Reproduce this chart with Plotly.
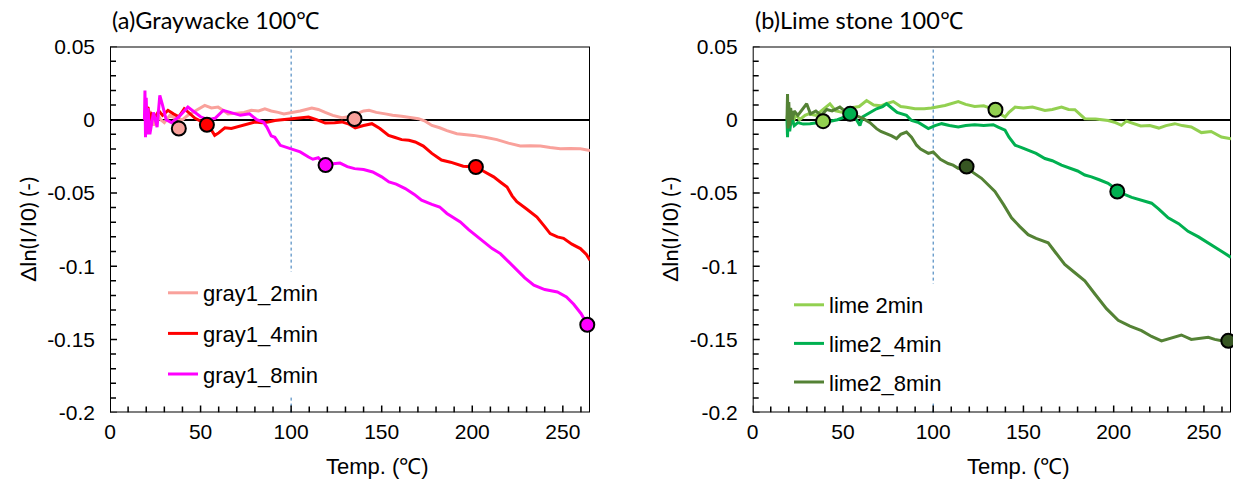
import plotly.graph_objects as go

# ---------------- data ----------------
# (a) Graywacke
g2_x = [19.5, 20, 21, 22, 24, 26, 28, 30, 33, 36, 40, 43, 47, 52.3, 56, 59.7, 63, 65.2, 70, 74, 78, 82, 85.5, 89, 92.8, 96, 100.4, 105, 111.4, 115, 118.8, 123, 128, 132, 136, 140, 143, 147, 152, 156, 161, 165, 170.3, 174, 177.7, 182, 186, 191.5, 196, 200.7, 207, 213.6, 220, 226.5, 232, 237.6, 243, 248.6, 254, 259.7, 265]
g2_y = [0.0, 0.008, -0.005, 0.006, -0.004, 0.004, 0.0, -0.002, 0.003, 0.001, 0.0, 0.003, 0.006, 0.0098, 0.008, 0.0086, 0.006, 0.004, 0.0045, 0.005, 0.0064, 0.006, 0.0075, 0.006, 0.005, 0.004, 0.005, 0.006, 0.008, 0.007, 0.005, 0.003, 0.0014, 0.002, 0.004, 0.006, 0.0064, 0.005, 0.004, 0.003, 0.0023, 0.0015, 0.0007, -0.001, -0.0039, -0.0055, -0.0075, -0.0096, -0.010, -0.0107, -0.012, -0.0136, -0.016, -0.018, -0.0178, -0.018, -0.019, -0.0198, -0.0196, -0.0198, -0.021]

g4_x = [19.5, 20, 20.5, 21, 22, 23, 25, 27, 29, 32, 35, 38, 41, 44, 47, 50, 53, 55, 57.8, 60, 63.4, 67, 72.6, 76, 80, 84, 87.3, 91, 96, 100.4, 105, 109.6, 114, 118.8, 124, 128, 132, 135.4, 140, 144.6, 149, 153.8, 157, 161, 165, 168.5, 173, 177.7, 183, 188, 195, 201.6, 206, 211.8, 216, 219.2, 222, 224.6, 230, 235.7, 240, 243, 247, 250.4, 255, 259.7, 263, 265]
g4_y = [0.0, -0.006, 0.008, 0.0086, -0.002, 0.004, 0.002, 0.006, 0.003, 0.0064, 0.004, 0.002, 0.0075, 0.004, 0.001, -0.001, -0.002, -0.005, -0.0107, -0.009, -0.0055, -0.006, -0.0039, -0.003, -0.0016, -0.002, -0.0016, -0.0005, 0.0, 0.0007, 0.001, 0.0018, 0.0, -0.0023, -0.002, -0.0015, -0.003, -0.0055, -0.004, -0.0027, -0.006, -0.0107, -0.012, -0.0136, -0.014, -0.0152, -0.018, -0.023, -0.0275, -0.029, -0.0318, -0.0323, -0.035, -0.039, -0.043, -0.046, -0.052, -0.056, -0.061, -0.0664, -0.073, -0.0778, -0.080, -0.081, -0.085, -0.088, -0.092, -0.096]

g8_x = [19, 19.3, 19.6, 20, 20.5, 21, 22, 24, 26, 27.5, 29, 31, 34, 38, 43, 47, 50, 54, 58, 62.5, 67, 72, 77, 81, 84.7, 86.6, 89, 91, 94, 96.7, 99.4, 102, 105, 109.6, 112, 115, 119, 123, 127, 131, 135, 140, 145, 150, 154, 158, 163, 168, 172, 177.7, 182, 186, 190, 193.4, 198, 202, 206, 211, 215.5, 220, 224.6, 229, 234, 240, 247, 252, 256, 260, 263.5]
g8_y = [0.0, 0.02, -0.012, 0.015, -0.01, 0.008, -0.01, 0.005, -0.005, 0.0166, 0.01, 0.0, -0.002, 0.002, 0.0086, 0.005, 0.002, 0.0, 0.001, 0.0064, 0.005, 0.003, 0.004, 0.0, -0.0016, -0.005, -0.011, -0.012, -0.0175, -0.0186, -0.0198, -0.021, -0.022, -0.0255, -0.027, -0.026, -0.031, -0.030, -0.0296, -0.032, -0.0334, -0.034, -0.0357, -0.039, -0.0425, -0.044, -0.047, -0.051, -0.055, -0.0578, -0.0596, -0.064, -0.067, -0.0698, -0.075, -0.079, -0.0834, -0.088, -0.0914, -0.097, -0.1028, -0.108, -0.113, -0.116, -0.1176, -0.121, -0.126, -0.1323, -0.1396]

g2_mx, g2_my = [38, 135], [-0.006, 0.0005]
g4_mx, g4_my = [53.5, 202], [-0.0035, -0.0323]
g8_mx, g8_my = [119, 263.5], [-0.031, -0.14]

# (b) Lime stone
l2_x = [19, 19.5, 20, 21, 22, 24, 26, 29, 31, 35, 38, 42.8, 46, 50, 54, 59, 63.1, 67, 71, 74, 77.9, 82, 85.2, 89.9, 95, 99, 106.5, 110, 113.9, 118, 123, 128, 134.2, 137, 139.8, 142, 145.4, 150, 155, 161.9, 166, 171.1, 175, 178.5, 181, 184, 190, 196.9, 201, 204.3, 207, 215, 220, 225, 229, 233.9, 238, 243, 248.6, 254, 259.7, 265]
l2_y = [0.0, 0.006, -0.006, 0.005, -0.003, 0.004, 0.0, 0.003, 0.004, 0.003, 0.006, 0.0109, 0.006, 0.005, 0.008, 0.009, 0.0131, 0.01, 0.0095, 0.011, 0.0124, 0.009, 0.0085, 0.0075, 0.0075, 0.008, 0.0097, 0.011, 0.0124, 0.0105, 0.009, 0.0095, 0.0068, 0.004, 0.0018, 0.005, 0.0086, 0.008, 0.0086, 0.0063, 0.007, 0.0086, 0.007, 0.0068, 0.004, 0.0007, 0.0005, -0.0005, -0.002, -0.0038, -0.001, -0.0043, -0.004, -0.0057, -0.004, -0.0027, -0.004, -0.005, -0.0088, -0.008, -0.0118, -0.013]

l4_x = [19, 19.3, 19.7, 20.5, 21.5, 23, 25, 28, 31.7, 35, 39, 43, 47, 51, 54, 57, 59.4, 61, 64, 68.6, 72, 74.2, 77, 80, 85.2, 88, 92, 97.3, 101, 104.7, 109, 113.9, 118, 123, 128, 133.3, 136, 139.8, 142, 145.4, 149, 152.6, 157, 161.9, 166, 171.1, 176, 180, 184, 187.7, 192, 196.9, 202, 206, 210, 215, 221, 225, 230.2, 236, 241.2, 247, 252.4, 259.7, 265]
l4_y = [0.0, -0.012, 0.005, -0.008, 0.002, -0.004, -0.002, -0.003, -0.0027, -0.002, -0.0015, -0.001, 0.0, 0.002, 0.004, 0.001, -0.004, 0.002, 0.004, 0.0075, 0.009, 0.0109, 0.008, 0.005, 0.003, -0.0005, -0.002, -0.006, -0.004, -0.0027, -0.004, -0.005, -0.004, -0.0034, -0.004, -0.0034, -0.005, -0.0072, -0.012, -0.0174, -0.019, -0.0208, -0.023, -0.0265, -0.028, -0.031, -0.0335, -0.035, -0.0378, -0.039, -0.041, -0.0434, -0.048, -0.051, -0.053, -0.055, -0.057, -0.061, -0.067, -0.071, -0.0762, -0.080, -0.084, -0.0898, -0.094]

l8_x = [19, 19.3, 19.6, 20, 20.5, 21, 22, 23, 25, 27, 29.9, 32, 35, 38, 41, 44, 48.3, 51, 53.9, 57, 61.3, 65, 68.6, 71, 74.2, 77, 79.7, 82, 85.2, 88, 90.8, 93, 97.3, 100, 104, 108.3, 111, 113.9, 118.5, 122, 126.8, 130, 134.2, 139, 143.4, 148, 152.6, 157, 163.7, 168, 172.9, 178, 184, 189.6, 196, 202.5, 209, 215.4, 221, 226.5, 232, 237.5, 243, 248, 252.4, 256, 259.7, 263.5]
l8_y = [0.0, 0.0176, -0.006, 0.012, -0.004, 0.008, 0.0, 0.006, 0.003, 0.006, 0.0109, 0.004, 0.006, 0.003, 0.007, 0.006, 0.0086, 0.006, 0.004, 0.003, 0.0007, -0.002, -0.0061, -0.008, -0.0095, -0.011, -0.0129, -0.01, -0.0084, -0.012, -0.0174, -0.02, -0.023, -0.022, -0.027, -0.0299, -0.031, -0.0332, -0.032, -0.036, -0.040, -0.044, -0.049, -0.058, -0.067, -0.073, -0.0785, -0.081, -0.084, -0.091, -0.0988, -0.104, -0.11, -0.119, -0.129, -0.137, -0.141, -0.144, -0.148, -0.151, -0.149, -0.147, -0.150, -0.149, -0.1486, -0.150, -0.151, -0.1508]

l2_mx, l2_my = [39, 134.5], [-0.001, 0.0068]
l4_mx, l4_my = [54, 202], [0.004, -0.049]
l8_mx, l8_my = [118.5, 263.5], [-0.032, -0.151]

x_ticks = [0, 50, 100, 150, 200, 250]
y_ticks = [0.05, 0, -0.05, -0.1, -0.15, -0.2]
y_ticktext = ["0.05", "0", "-0.05", "-0.1", "-0.15", "-0.2"]
titles = ["(a)Graywacke 100℃", "(b)Lime stone 100℃"]
x_title = "Temp. (℃)"
y_title = "Δln(I/I0) (-)"

# axis configuration
X_RANGE = [0, 265]
Y_RANGE = [-0.2, 0.05]
x_minor = [v for v in range(0, 266, 10) if v % 50 != 0]
y_minor = [round(-0.2 + 0.01 * i, 2) for i in range(26) if i % 5 != 0]

# ---------------- figure ----------------
W, H = 1233, 488
TICKFONT = dict(family="Liberation Sans, Arial", size=21, color="black")
LEGFONT = dict(family="Liberation Sans, Arial", size=22, color="black")
CAL = "Lato, Carlito, Calibri, sans-serif"

ydom = [1 - 412.6 / H, 1 - 46.5 / H]
xdoms = [[110 / W, 590 / W], [752.7 / W, 1231 / W]]
plot_h_px = (ydom[1] - ydom[0]) * H

fig = go.Figure()

# plot-area frame and inside tick marks, expressed in each panel's axis units
for i, (xa, ya) in enumerate([("x", "y"), ("x2", "y2")]):
    plot_w_px = (xdoms[i][1] - xdoms[i][0]) * W
    ux = (X_RANGE[1] - X_RANGE[0]) / plot_w_px   # axis units per pixel
    uy = (Y_RANGE[1] - Y_RANGE[0]) / plot_h_px
    fig.add_trace(go.Scatter(
        x=[X_RANGE[0], X_RANGE[1], X_RANGE[1], X_RANGE[0], X_RANGE[0]],
        y=[Y_RANGE[0], Y_RANGE[0], Y_RANGE[1], Y_RANGE[1], Y_RANGE[0]],
        mode="lines", line=dict(color="black", width=2), xaxis=xa, yaxis=ya,
        showlegend=False, hoverinfo="skip", cliponaxis=False))
    tx, ty = [], []
    for v, ln in [(t, 7) for t in x_ticks] + [(t, 6) for t in x_minor]:
        tx += [v, v, None]
        ty += [Y_RANGE[0], Y_RANGE[0] + ln * uy, None]
    for v, ln in [(t, 7) for t in y_ticks] + [(t, 6) for t in y_minor]:
        tx += [X_RANGE[0], X_RANGE[0] + ln * ux, None]
        ty += [v, v, None]
    fig.add_trace(go.Scatter(x=tx, y=ty, mode="lines", line=dict(color="black", width=1.5),
                             xaxis=xa, yaxis=ya, showlegend=False, hoverinfo="skip",
                             cliponaxis=False, connectgaps=False))

series = [
    # name, x, y, mx, my, line colour, marker colour, axes, legend
    ("gray1_2min", g2_x, g2_y, g2_mx, g2_my, "#F9A19B", "#F9A19B", "x", "y", "legend"),
    ("gray1_4min", g4_x, g4_y, g4_mx, g4_my, "#FF0000", "#FF0000", "x", "y", "legend"),
    ("gray1_8min", g8_x, g8_y, g8_mx, g8_my, "#FF00FF", "#FF00FF", "x", "y", "legend"),
    ("lime 2min", l2_x, l2_y, l2_mx, l2_my, "#92D050", "#92D050", "x2", "y2", "legend2"),
    ("lime2_4min", l4_x, l4_y, l4_mx, l4_my, "#00B050", "#00B050", "x2", "y2", "legend2"),
    ("lime2_8min", l8_x, l8_y, l8_mx, l8_my, "#548235", "#375623", "x2", "y2", "legend2"),
]
for name, xs, ys, mx, my, lc, mc, xa, ya, lg in series:
    fig.add_trace(go.Scatter(x=xs, y=ys, mode="lines", name=name,
                             line=dict(color=lc, width=3), xaxis=xa, yaxis=ya,
                             legend=lg, legendgroup=name))
for name, xs, ys, mx, my, lc, mc, xa, ya, lg in series:
    fig.add_trace(go.Scatter(x=mx, y=my, mode="markers", showlegend=False,
                             marker=dict(color=mc, size=14, line=dict(color="black", width=2)),
                             xaxis=xa, yaxis=ya, cliponaxis=False))


def xa_cfg(dom, anchor):
    return dict(domain=dom, anchor=anchor, range=X_RANGE, tickmode="array", tickvals=x_ticks,
                ticks="", showline=False, automargin=False,
                showgrid=False, zeroline=False, tickfont=TICKFONT, ticklabelstandoff=4)


def ya_cfg(anchor):
    return dict(domain=ydom, anchor=anchor, range=Y_RANGE, tickmode="array",
                tickvals=y_ticks, ticktext=y_ticktext,
                ticks="", showline=False, automargin=False,
                showgrid=False, zeroline=True, zerolinecolor="black", zerolinewidth=1.8,
                tickfont=TICKFONT, ticklabelstandoff=14)


leg_common = dict(bgcolor="white", borderwidth=0, font=LEGFONT, xanchor="left", yanchor="top",
                  itemwidth=30, traceorder="grouped")

fig.update_layout(
    template="none",
    width=W, height=H, margin=dict(l=0, r=0, t=0, b=0, autoexpand=False),
    xaxis=xa_cfg(xdoms[0], "y"), yaxis=ya_cfg("x"),
    xaxis2=xa_cfg(xdoms[1], "y2"), yaxis2=ya_cfg("x2"),
    legend=dict(x=163 / W, y=1 - 272 / H, tracegroupgap=9, **leg_common),
    legend2=dict(x=789 / W, y=1 - 284 / H, tracegroupgap=7, **leg_common),
)

for i, xr in enumerate(["x", "x2"]):
    yr = "y" if i == 0 else "y2"
    fig.add_shape(type="line", xref=xr, yref=yr + " domain",
                  x0=100, x1=100, y0=0, y1=1, layer="below",
                  line=dict(color="#2E75B6", width=1, dash="dot"))

for i, t in enumerate(titles):
    fig.add_annotation(text=t, xref="paper", yref="paper", x=xdoms[i][0], y=1 - 20 / H,
                       xanchor="left", yanchor="middle", showarrow=False,
                       font=dict(family=CAL, size=23.5, color="black"))
    fig.add_annotation(text=x_title, xref="paper", yref="paper",
                       x=(xdoms[i][0] + xdoms[i][1]) / 2 + 27 / W, y=1 - 466 / H,
                       xanchor="center", yanchor="middle", showarrow=False,
                       font=dict(family="Liberation Sans, Arial", size=22, color="black"))
    fig.add_annotation(text=y_title, xref="paper", yref="paper",
                       x=(28 if i == 0 else 670) / W, y=(ydom[0] + ydom[1]) / 2,
                       xanchor="center", yanchor="middle", textangle=-90, showarrow=False,
                       font=dict(family=CAL, size=22, color="black"))

fig.write_html("out.html", config={"displayModeBar": False},
               post_script="document.body.style.margin='0';document.body.style.overflow='hidden';")
